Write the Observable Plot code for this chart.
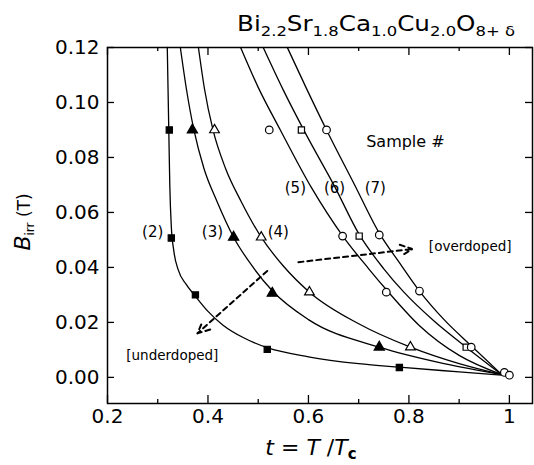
<!DOCTYPE html>
<html><head><meta charset="utf-8">
<script src="https://cdn.jsdelivr.net/npm/d3@7"></script>
<script src="https://cdn.jsdelivr.net/npm/@observablehq/plot@0.6"></script>
<style>body{margin:0;background:#fff} #chart{width:534px;height:465px}</style>
</head><body><div id="chart"></div>
<script>
// Axis ticks
const xMajor = [0.2, 0.4, 0.6, 0.8, 1.0];
const xMinor = [0.3, 0.5, 0.7, 0.9];
const yMajor = [0, 0.02, 0.04, 0.06, 0.08, 0.10, 0.12];

// Fitted curves (t, B_irr)
const curve2 = [[0.319,0.12],[0.322,0.09],[0.324,0.07],[0.327,0.055],[0.332,0.046],[0.341,0.039],[0.356,0.034],[0.375,0.0295],[0.40,0.024],[0.43,0.019],[0.47,0.0145],[0.518,0.0108],[0.60,0.0075],[0.70,0.005],[0.781,0.0037],[0.90,0.002],[0.985,0.0008]];
const curve3 = [[0.345,0.12],[0.357,0.105],[0.372,0.09],[0.392,0.076],[0.418,0.064],[0.451,0.051],[0.49,0.040],[0.528,0.0315],[0.60,0.021],[0.741,0.011],[0.87,0.005],[0.985,0.001]];
const curve4 = [[0.381,0.12],[0.393,0.105],[0.41,0.09],[0.435,0.076],[0.466,0.064],[0.506,0.051],[0.55,0.0405],[0.602,0.031],[0.70,0.0195],[0.803,0.011],[0.90,0.005],[0.985,0.001]];
const curve5 = [[0.465,0.12],[0.50,0.1055],[0.544,0.09],[0.606,0.069],[0.668,0.0515],[0.72,0.0395],[0.757,0.0315],[0.82,0.019],[0.90,0.008],[0.985,0.001]];
const curve6 = [[0.510,0.12],[0.55,0.1045],[0.595,0.0885],[0.652,0.0695],[0.701,0.052],[0.75,0.0395],[0.79,0.031],[0.85,0.0205],[0.914,0.011],[0.985,0.001]];
const curve7 = [[0.558,0.12],[0.595,0.1055],[0.636,0.09],[0.692,0.070],[0.741,0.0525],[0.78,0.042],[0.821,0.0314],[0.87,0.021],[0.924,0.0115],[0.985,0.001]];

// Measured points per sample
const pts2 = [[0.323,0.09],[0.327,0.0507],[0.375,0.030],[0.518,0.0102],[0.781,0.0036]];
const pts3 = [[0.369,0.09],[0.451,0.051],[0.528,0.0306],[0.741,0.011]];
const pts4 = [[0.413,0.09],[0.506,0.051],[0.602,0.031],[0.803,0.011]];
const pts5 = [[0.522,0.09],[0.668,0.0514],[0.755,0.031],[0.99,0.0018]];
const pts6 = [[0.586,0.09],[0.701,0.0514],[0.914,0.011]];
const pts7 = [[0.636,0.09],[0.741,0.0518],[0.821,0.0314],[0.924,0.011],[1.0,0.0008]];

// Annotations
const sampleLabels = [
  {t:0.290, B:0.0529, s:"(2)"}, {t:0.409, B:0.0529, s:"(3)"}, {t:0.540, B:0.0529, s:"(4)"},
  {t:0.574, B:0.069, s:"(5)"}, {t:0.652, B:0.069, s:"(6)"}, {t:0.733, B:0.069, s:"(7)"}
];
const headerLabel = [{t:0.793, B:0.0857, s:"Sample #"}];
const dopingLabels = [{t:0.922, B:0.0474, s:"[overdoped]"}, {t:0.329, B:0.008, s:"[underdoped]"}];
const arrows = [
  {x1:0.518, y1:0.0387, x2:0.379, y2:0.016},
  {x1:0.580, y1:0.0419, x2:0.807, y2:0.0467}
];

const font = "DejaVu Sans";
const W = 534, H = 465, mT = 47, mB = 62, mL = 107, mR = 2;
const fw = W - mL - mR, fh = H - mT - mB;
const line = c => Plot.line(c, {x: d=>d[0], y: d=>d[1], curve: "monotone-x", stroke: "black", strokeWidth: 1.3});
const dots = (p, symbol, filled, r) => Plot.dot(p, {x: d=>d[0], y: d=>d[1], symbol, r, fill: filled ? "black" : "white", stroke: "black", strokeWidth: 1.2});

const plot = Plot.plot({
  width: W, height: H,
  marginTop: mT, marginBottom: mB, marginLeft: mL, marginRight: mR,
  x: {domain: [0.2, 1.046]},
  y: {domain: [-0.0095, 0.12]},
  style: {fontFamily: font, fontSize: "20px", background: "white", color: "black"},
  marks: [
    Plot.frame({stroke: "black", strokeWidth: 1.5}),
    // inward ticks on all four sides
    Plot.tickX(xMajor, {x: d=>d, insetTop: fh - 8, stroke: "black", strokeWidth: 1.3}),
    Plot.tickX(xMinor, {x: d=>d, insetTop: fh - 4, stroke: "black", strokeWidth: 1.3}),
    Plot.tickX(xMajor, {x: d=>d, insetBottom: fh - 8, stroke: "black", strokeWidth: 1.3}),
    Plot.tickX(xMinor, {x: d=>d, insetBottom: fh - 4, stroke: "black", strokeWidth: 1.3}),
    Plot.tickY(yMajor, {y: d=>d, insetRight: fw - 7, stroke: "black", strokeWidth: 1.3}),
    Plot.tickY(yMajor, {y: d=>d, insetLeft: fw - 7, stroke: "black", strokeWidth: 1.3}),
    Plot.axisX({ticks: xMajor, tickSize: 0, tickPadding: 5, tickFormat: d => d === 1 ? "1" : d.toFixed(1), label: null}),
    Plot.axisY({ticks: yMajor, tickSize: 0, tickPadding: 8, tickFormat: d => d.toFixed(2), label: null}),
    line(curve2), line(curve3), line(curve4), line(curve5), line(curve6), line(curve7),
    dots(pts2, "square", true, 3.5),
    dots(pts3, "triangle", true, 3.8),
    dots(pts4, "triangle", false, 3.6),
    dots(pts5, "circle", false, 3.8),
    dots(pts6, "square", false, 3.5),
    dots(pts7, "circle", false, 3.8),
    Plot.arrow(arrows, {x1:"x1", y1:"y1", x2:"x2", y2:"y2", stroke: "black", strokeWidth: 2, strokeDasharray: "5,4", headLength: 10, headAngle: 50}),
    Plot.text(sampleLabels, {x:"t", y:"B", text:"s", fontSize: 15, fontFamily: font}),
    Plot.text(headerLabel, {x:"t", y:"B", text:"s", fontSize: 16, fontFamily: font}),
    Plot.text(dopingLabels, {x:"t", y:"B", text:"s", fontSize: 13.5, fontFamily: font})
  ]
});
document.getElementById("chart").appendChild(plot);

const svg = d3.select(plot);
// Title with subscripts
const titleParts = [["Bi",0],["2.2",1],["Sr",0],["1.8",1],["Ca",0],["1.0",1],["Cu",0],["2.0",1],["O",0],["8+ δ",1]];
const title = svg.append("text").attr("x", 515).attr("y", 31).attr("text-anchor", "end")
  .attr("font-family", font).attr("font-size", 21).attr("fill", "black")
  .attr("textLength", 278).attr("lengthAdjust", "spacingAndGlyphs");
let prev = 0;
titleParts.forEach(([s, sub]) => {
  title.append("tspan").attr("font-size", sub ? 14 : 21).attr("dy", sub === prev ? 0 : (sub ? 5 : -5)).text(s);
  prev = sub;
});
// Y label
const yl = svg.append("text").attr("transform", "translate(30,222) rotate(-90)").attr("text-anchor", "middle")
  .attr("font-family", font).attr("fill", "black");
yl.append("tspan").attr("font-size", 22).attr("font-style", "italic").text("B");
yl.append("tspan").attr("font-size", 12).attr("dy", 4).text("irr");
yl.append("tspan").attr("font-size", 17).attr("dy", -4).text(" (T)");
// X label
const xl = svg.append("text").attr("x", 311).attr("y", 455).attr("text-anchor", "middle")
  .attr("font-family", font).attr("font-size", 22).attr("fill", "black");
xl.append("tspan").attr("font-style", "italic").text("t");
xl.append("tspan").text(" = ");
xl.append("tspan").attr("font-style", "italic").text("T");
xl.append("tspan").text(" /");
xl.append("tspan").attr("font-style", "italic").text("T");
xl.append("tspan").attr("font-size", 15).attr("font-weight", "bold").attr("dy", 4).text("c");
</script>
</body></html>
